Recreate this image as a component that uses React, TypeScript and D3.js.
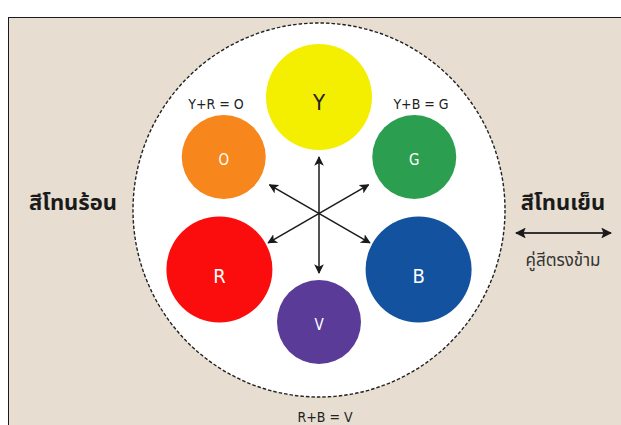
import React from "react";
import * as d3 from "d3";

// ---- data ----
const colorNames = ["Y", "O", "R", "V", "B", "G"];
const colorFills = ["#f4ef00", "#f7861c", "#fb0d0d", "#5a3b98", "#12529f", "#2c9e50"];
const colorKinds = ["primary", "secondary", "primary", "secondary", "primary", "secondary"];
const wheelAngles = [-90, -150, 150, 90, 30, -30];
const mixLabels = ["Y+R = O", "Y+B = G", "R+B = V"];
const mixTargets = ["O", "G", "V"];
const warmLabel = "สีโทนร้อน";
const coolLabel = "สีโทนเย็น";
const complementLabel = "คู่สีตรงข้าม";
const complementPairs = [["Y", "V"], ["O", "B"], ["G", "R"]];

const W = 621;
const H = 425;
const cx = 319;
const cy = 212;

export default function App() {
  const radius = d3.scaleOrdinal<string, number>().domain(["primary", "secondary"]).range([53, 42]);
  const ring = d3.scaleOrdinal<string, number>().domain(["primary", "secondary"]).range([115, 110]);
  const toRad = d3.scaleLinear().domain([0, 180]).range([0, Math.PI]);
  const nodes = colorNames.map((n, i) => {
    const a = toRad(wheelAngles[i]);
    const rr = ring(colorKinds[i]);
    return {
      name: n,
      fill: colorFills[i],
      kind: colorKinds[i],
      r: radius(colorKinds[i]),
      angle: wheelAngles[i],
      x: cx + rr * Math.cos(a),
      y: cy + rr * Math.sin(a),
    };
  });
  const byName = new Map(nodes.map((n) => [n.name, n]));
  const ax = cx;
  const ay = 215;
  const arrowLen = 58;
  const arrows = complementPairs.map(([a, b]) => {
    const na = byName.get(a)!;
    const nb = byName.get(b)!;
    const ta = Math.atan2(na.y - ay, na.x - ax);
    const tb = Math.atan2(nb.y - ay, nb.x - ax);
    return {
      x1: ax + arrowLen * Math.cos(ta),
      y1: ay + arrowLen * Math.sin(ta),
      x2: ax + arrowLen * Math.cos(tb),
      y2: ay + arrowLen * Math.sin(tb),
    };
  });
  const font = "'DejaVu Sans Condensed', 'Liberation Sans Narrow', 'Roboto', sans-serif";
  const thaiFont = "'Noto Sans Thai', 'Loma', 'Garuda', 'Tlwg Typo', 'Noto Sans', sans-serif";
  const labelPos: Record<string, { x: number; y: number }> = {
    O: { x: 216, y: 104 },
    G: { x: 421, y: 104 },
    V: { x: 325, y: 417 },
  };
  return (
    <svg
      width={W}
      height={H}
      style={{ position: "absolute", left: 0, top: 0, display: "block" }}
      viewBox={`0 0 ${W} ${H}`}
    >
      <defs>
        <marker id="ah" viewBox="0 0 10 10" refX="9" refY="5" markerWidth="6.5" markerHeight="6.5" orient="auto-start-reverse">
          <path d="M0,0 L10,5 L0,10 L2.5,5 z" fill="#1a1a1a" />
        </marker>
        <marker id="ah2" viewBox="0 0 10 10" refX="9" refY="5" markerWidth="6" markerHeight="6" orient="auto-start-reverse">
          <path d="M0,0 L10,5 L0,10 L2,5 z" fill="#1a1a1a" />
        </marker>
      </defs>
      <rect x={0} y={0} width={W} height={H} fill="#ffffff" />
      <rect x={8.5} y={17.5} width={W} height={H} fill="#e7ded1" stroke="#1a1a1a" strokeWidth={1} />
      <ellipse cx={cx} cy={210} rx={186} ry={187} fill="#ffffff" stroke="#222" strokeWidth={1.4} strokeDasharray="3.5,2" />
      {nodes.map((n) => (
        <g key={n.name}>
          <circle cx={n.x} cy={n.y} r={n.r} fill={n.fill} />
          <text
            x={n.x}
            y={n.y + (n.name === "Y" ? 13 : n.kind === "primary" ? 13 : 8)}
            textAnchor="middle"
            fontFamily={font}
            fontSize={n.kind === "primary" ? (n.name === "Y" ? 22 : 20) : 15}
            fill={n.name === "Y" ? "#222" : "#ffffff"}
          >
            {n.name}
          </text>
        </g>
      ))}
      {arrows.map((a, i) => (
        <line
          key={i}
          x1={a.x1}
          y1={a.y1}
          x2={a.x2}
          y2={a.y2}
          stroke="#1a1a1a"
          strokeWidth={1.5}
          markerStart="url(#ah)"
          markerEnd="url(#ah)"
        />
      ))}
      {mixLabels.map((l, i) => (
        <text
          key={l}
          x={labelPos[mixTargets[i]].x}
          y={labelPos[mixTargets[i]].y + 5}
          textAnchor="middle"
          fontFamily={font}
          fontSize={14}
          fill="#222"
          style={{ whiteSpace: "pre" }}
        >
          {l}
        </text>
      ))}
      <text x={73} y={210} textAnchor="middle" fontFamily={thaiFont} fontSize={22} fontWeight="bold" fill="#1a1a1a">
        {warmLabel}
      </text>
      <text x={563} y={210} textAnchor="middle" fontFamily={thaiFont} fontSize={22} fontWeight="bold" fill="#1a1a1a">
        {coolLabel}
      </text>
      <line x1={516} y1={233} x2={611} y2={233} stroke="#333" strokeWidth={1.8} markerStart="url(#ah2)" markerEnd="url(#ah2)" />
      <text x={563} y={266} textAnchor="middle" fontFamily={thaiFont} fontSize={17} fill="#333">
        {complementLabel}
      </text>
    </svg>
  );
}
